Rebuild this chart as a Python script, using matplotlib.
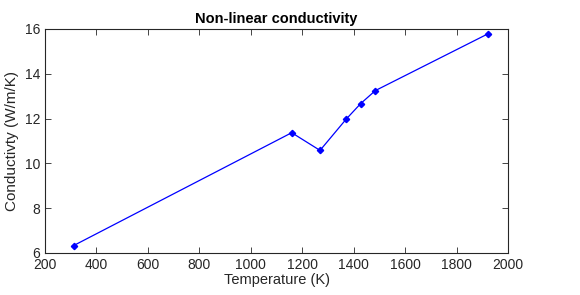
import matplotlib
matplotlib.use('Agg')
import matplotlib.pyplot as plt

temperature = [311, 1159, 1269, 1371, 1427, 1484, 1921]
conductivity = [6.33, 11.37, 10.58, 11.98, 12.67, 13.25, 15.78]

x_ticks = [200, 400, 600, 800, 1000, 1200, 1400, 1600, 1800, 2000]
y_ticks = [6, 8, 10, 12, 14, 16]

plt.rcParams['font.family'] = ['Liberation Sans', 'DejaVu Sans']

fig = plt.figure(figsize=(5.8, 2.95), dpi=100)
ax = fig.add_axes([0.0776, 0.1424, 0.876 - 0.0776, 0.9017 - 0.1424])

ax.plot(temperature, conductivity, color='#0000ff', linewidth=0.9,
        marker='D', markersize=3.2, markerfacecolor='#0000ff', markeredgecolor='#0000ff')

ax.set_xlim(200, 2000)
ax.set_ylim(6, 16)
ax.set_xticks(x_ticks)
ax.set_yticks(y_ticks)

ax.tick_params(direction='in', top=True, right=True, length=4, width=0.6,
               colors='#262626', labelsize=10)
for s in ax.spines.values():
    s.set_color('#262626')
    s.set_linewidth(0.8)

ax.set_title('Non-linear conductivity', fontsize=10.5, fontweight='bold', pad=4)
ax.set_xlabel('Temperature (K)', fontsize=10.5, color='#262626', labelpad=1)
ax.set_ylabel('Conductivty (W/m/K)', fontsize=11, color='#262626', labelpad=4)

fig.savefig('out.png', dpi=100)
